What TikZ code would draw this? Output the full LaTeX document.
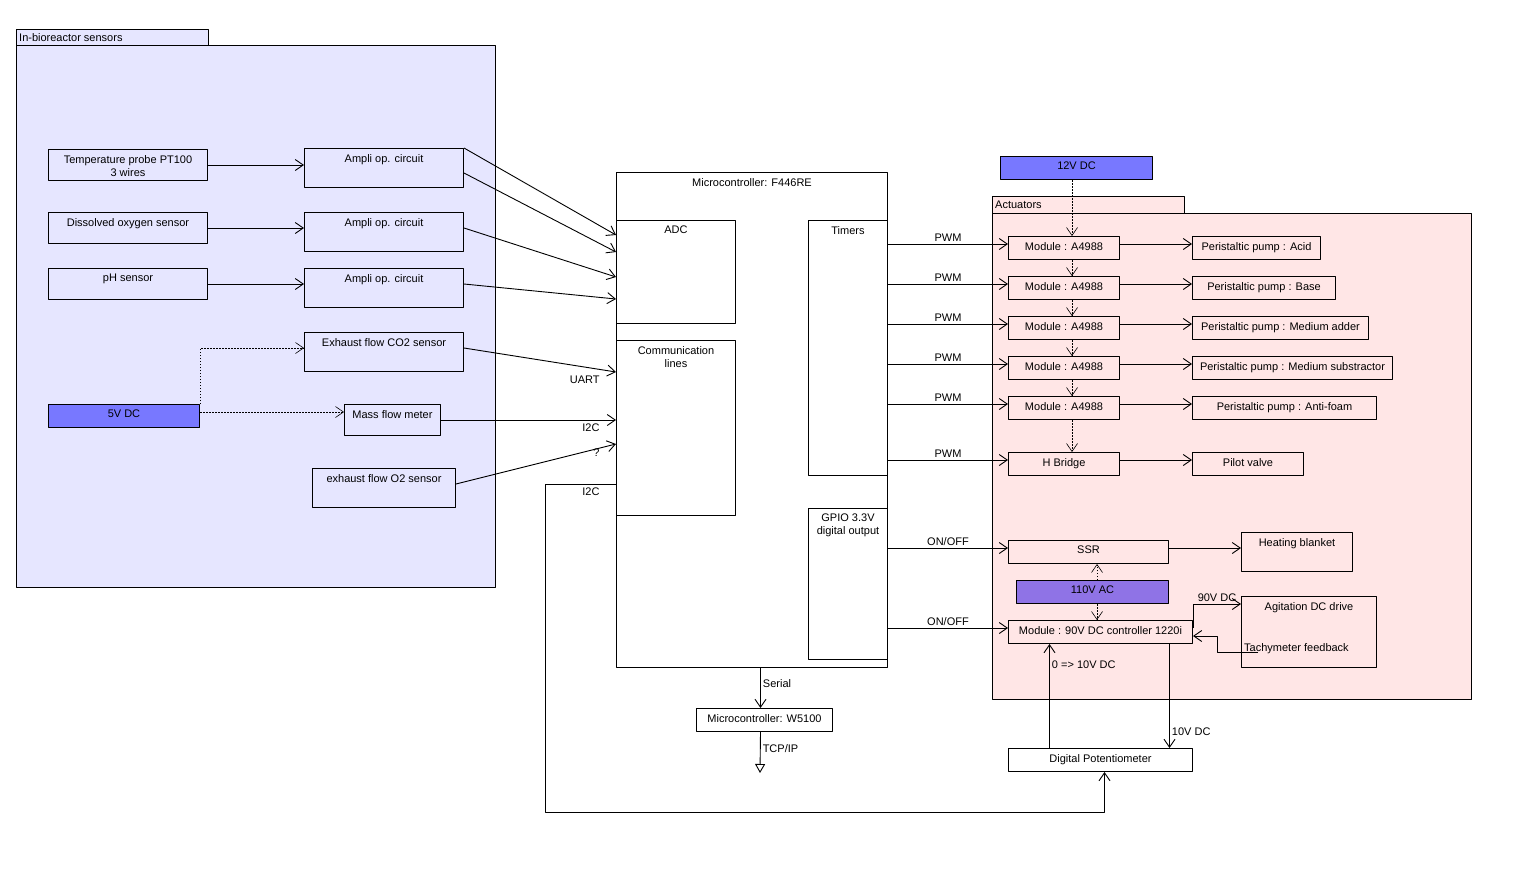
\documentclass[tikz,border=0pt]{standalone}
\usepackage{fontspec}
\setmainfont{Liberation Sans}
\usetikzlibrary{arrows.meta,positioning}
\definecolor{sensbg}{HTML}{E6E6FF}
\definecolor{actbg}{HTML}{FFE6E6}
\definecolor{dcblue}{HTML}{7878FF}
\definecolor{acviolet}{HTML}{8F73E6}
\tikzset{
	box/.style={draw, line width=1pt, inner sep=0pt, anchor=north west},
	top/.style={label={[anchor=north, inner sep=6pt, align=center]north:{#1}}},
	tab/.style={label={[anchor=west, inner sep=3pt]west:{#1}}},
	arr/.style={-{Straight Barb[length=8pt,width=11pt]}, line width=0.9pt},
	pwr/.style={arr, dash pattern=on 1.5pt off 1.5pt, line width=0.6pt},
	tag/.style={inner sep=2pt},
}
\begin{document}
\begin{tikzpicture}[x=1pt, y=-1pt, font=\fontsize{11}{13}\selectfont, line join=round]
			\useasboundingbox (0,0) rectangle (1526,895);
			\fill[white] (0,0) rectangle (1526,895);
			% sensors
			\node[box, fill=sensbg, minimum width=192pt, minimum height=16pt, tab={In-bioreactor sensors}] (senstab) at (16,29) {};
			\node[box, fill=sensbg, minimum width=479pt, minimum height=542pt] (sens) at (16,45) {};
			\node[box, minimum width=159pt, minimum height=31pt, top={Temperature probe PT100\\3 wires}] (temp) at (48,149) {};
			\node[box, minimum width=159pt, minimum height=31pt, top={Dissolved oxygen sensor}] (dos) at (48,212) {};
			\node[box, minimum width=159pt, minimum height=31pt, top={pH sensor}] (ph) at (48,268) {};
			\node[box, minimum width=159pt, minimum height=39pt, top={Ampli op. circuit}] (amp1) at (304,148) {};
			\node[box, minimum width=159pt, minimum height=39pt, top={Ampli op. circuit}] (amp2) at (304,212) {};
			\node[box, minimum width=159pt, minimum height=39pt, top={Ampli op. circuit}] (amp3) at (304,268) {};
			\node[box, minimum width=159pt, minimum height=39pt, top={Exhaust flow CO2 sensor}] (co2) at (304,332) {};
			\node[box, fill=dcblue, minimum width=151pt, minimum height=23pt, top={5V DC}] (dc5) at (48,404) {};
			\node[box, minimum width=96pt, minimum height=31pt, top={Mass flow meter}] (mfm) at (344,404) {};
			\node[box, minimum width=143pt, minimum height=39pt, top={exhaust flow O2 sensor}] (o2) at (312,468) {};
			% microcontroller
			\node[box, fill=white, minimum width=271pt, minimum height=495pt, top={Microcontroller: F446RE}] (mcu) at (616,172) {};
			\node[box, minimum width=119pt, minimum height=103pt, top={ADC}] (adc) at (616,220) {};
			\node[box, minimum width=119pt, minimum height=175pt, top={Communication\\lines}] (comm) at (616,340) {};
			\node[box, minimum width=79pt, minimum height=255pt, top={Timers}] (tim) at (808,220) {};
			\node[box, minimum width=79pt, minimum height=151pt, top={GPIO 3.3V\\digital output}] (gpio) at (808,508) {};
			\node[box, minimum width=136pt, minimum height=23pt, top={Microcontroller: W5100}] (w51) at (696,708) {};
			% actuators
			\node[box, fill=dcblue, minimum width=152pt, minimum height=23pt, top={12V DC}] (dc12) at (1000,156) {};
			\node[box, fill=actbg, minimum width=192pt, minimum height=17pt, tab={Actuators}] (acttab) at (992,196) {};
			\node[box, fill=actbg, minimum width=479pt, minimum height=486pt] (act) at (992,213) {};
			\foreach \i/\pump/\w in {1/Acid/128,2/Base/143,3/Medium adder/176,4/Medium substractor/200,5/Anti-foam/184}{
				\node[box, minimum width=111pt, minimum height=23pt, top={Module : A4988}] (mod\i) at (1008,{196+40*\i}) {};
				\node[box, minimum width=\w pt, minimum height=23pt, top={Peristaltic pump : \pump}] (pump\i) at (1192,{196+40*\i}) {};
				\coordinate (pin\i) at ([yshift=-8pt]mod\i.north west);
				\coordinate (pout\i) at ([yshift=-8pt]mod\i.north east);
				\draw[arr] (pout\i) -- (pout\i -| pump\i.west);
				\draw[arr] (tim.east |- pin\i) -- (pin\i) node[midway, above, tag]{PWM};
			}
			\node[box, minimum width=111pt, minimum height=23pt, top={H Bridge}] (hbr) at (1008,452) {};
			\node[box, minimum width=111pt, minimum height=23pt, top={Pilot valve}] (valve) at (1192,452) {};
			\coordinate (pin6) at ([yshift=-8pt]hbr.north west);
			\coordinate (pout6) at ([yshift=-8pt]hbr.north east);
			\draw[arr] (pout6) -- (pout6 -| valve.west);
			\draw[arr] (tim.east |- pin6) -- (pin6) node[midway, above, tag]{PWM};
			\node[box, minimum width=160pt, minimum height=23pt, top={SSR}] (ssr) at (1008,540) {};
			\node[box, minimum width=111pt, minimum height=39pt, top={Heating blanket}] (heat) at (1241,532) {};
			\node[box, fill=acviolet, minimum width=152pt, minimum height=23pt, top={110V AC}] (ac110) at (1016,580) {};
			\node[box, minimum width=184pt, minimum height=23pt, top={Module : 90V DC controller 1220i}] (mod90) at (1008,620) {};
			\node[box, minimum width=135pt, minimum height=71pt, top={Agitation DC drive},
				label={[anchor=base west, inner sep=0pt, xshift=3pt, yshift=17pt]south west:{Tachymeter feedback}}] (agit) at (1241,596) {};
			\node[box, minimum width=184pt, minimum height=23pt, top={Digital Potentiometer}] (pot) at (1008,748) {};
			% sensor links
			\draw[arr] (temp.east) -- (temp.east -| amp1.west);
			\draw[arr] (dos.east) -- (dos.east -| amp2.west);
			\draw[arr] (ph.east) -- (ph.east -| amp3.west);
			\draw[arr] (amp1.north east) -- ([yshift=-15pt]adc.north west);
			\draw[arr] ([yshift=-25pt]amp1.north east) -- ([yshift=-32pt]adc.north west);
			\draw[arr] ([yshift=-16pt]amp2.north east) -- ([yshift=-57pt]adc.north west);
			\draw[arr] ([yshift=-16pt]amp3.north east) -- ([yshift=-79pt]adc.north west);
			\draw[arr] ([yshift=-16pt]co2.north east) -- ([yshift=-32pt]comm.north west) node[below left=1pt and 14pt, tag]{UART};
			\draw[arr] (mfm.east) -- (mfm.east -| comm.west) node[below left=1pt and 14pt, tag]{I2C};
			\draw[arr] ([yshift=-16pt]o2.north east) -- ([yshift=-104pt]comm.north west) node[below left=2pt and 14pt, tag]{?};
			\draw[pwr] (dc5.north east) |- ([yshift=-16pt]co2.north west);
			\draw[pwr] ([yshift=-8pt]dc5.north east) -- ([yshift=-8pt]mfm.north west);
			\draw[arr] ([yshift=-144pt]comm.north west) node[below left=1pt and 14pt, tag]{I2C} -| (545,812) -| ([xshift=4pt]pot.south);
			% network
			\coordinate (ser) at ([xshift=-4pt]w51.north);
			\coordinate (net) at (760,773);
			\draw[arr] (ser |- mcu.south) -- (ser) node[pos=0.4, right, tag]{Serial};
			\draw[-{Triangle[open, length=9pt, width=10pt]}, line width=0.9pt] ([xshift=-4pt]w51.south) -- (net) node[pos=0.4, right, tag]{TCP/IP};
			% power
			\coordinate (bus) at (1072,0);
			\draw[pwr] (bus |- dc12.south) -- (bus |- mod1.north);
			\foreach \a/\b in {mod1/mod2,mod2/mod3,mod3/mod4,mod4/mod5,mod5/hbr}
				\draw[pwr] (bus |- \a.south) -- (bus |- \b.north);
			\coordinate (acx) at (1097,0);
			\draw[pwr] (acx |- ac110.north) -- (acx |- ssr.south);
			\draw[pwr] (acx |- ac110.south) -- (acx |- mod90.north);
			% gpio outputs
			\coordinate (s1) at ([yshift=-8pt]ssr.north west);
			\coordinate (s2) at ([yshift=-8pt]ssr.north east);
			\coordinate (m1) at ([yshift=-8pt]mod90.north west);
			\draw[arr] (gpio.east |- s1) -- (s1) node[midway, above, tag]{ON/OFF};
			\draw[arr] (gpio.east |- m1) -- (m1) node[midway, above, tag]{ON/OFF};
			\draw[arr] (s2) -- (s2 -| heat.west);
			\draw[arr] (mod90.east |- 0,628) |- ([yshift=-8pt]agit.north west) node[pos=0.75, above, tag]{90V DC};
			\coordinate (tach) at (1258,652);
			\draw[arr] (tach) -- (1217,652) |- (mod90.east |- 0,636);
			\draw[arr] ([xshift=-51pt]pot.north) -- ([xshift=-51pt]mod90.south) node[pos=0.8, right, tag]{0 => 10V DC};
			\draw[arr] ([xshift=69pt]mod90.south) -- ([xshift=69pt]pot.north) node[pos=0.84, right, tag]{10V DC};
		\end{tikzpicture}
\end{document}
